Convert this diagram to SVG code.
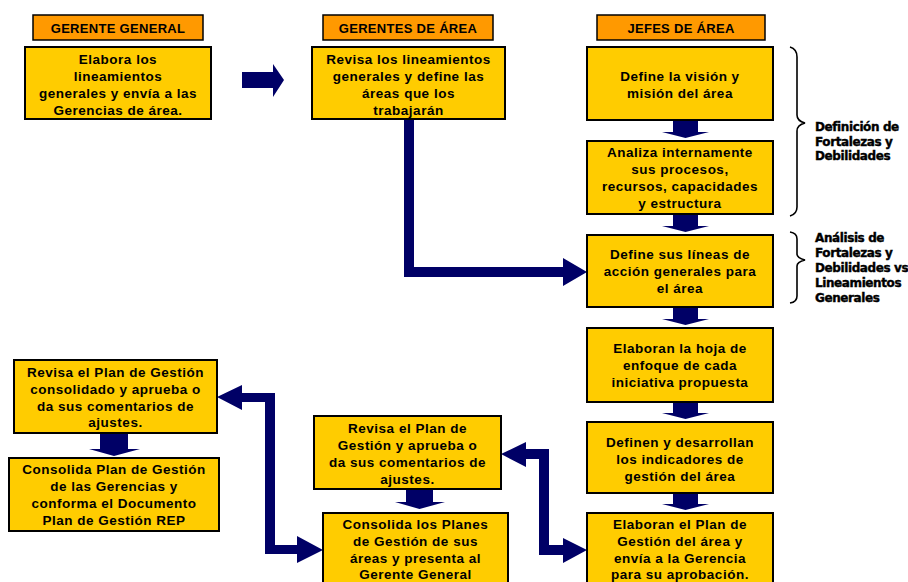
<svg xmlns="http://www.w3.org/2000/svg" width="908" height="582" viewBox="0 0 908 582">
<defs>
<style>
.hdr{fill:#FF9900;stroke:#000;stroke-width:1.5}
.box{fill:#FFCC00;stroke:#000;stroke-width:2}
.ht{font-family:"Liberation Sans",Arial,sans-serif;font-size:13px;font-weight:bold;fill:#000;text-anchor:middle;letter-spacing:0.3px}
.bt{font-family:"Liberation Sans",Arial,sans-serif;font-size:13.5px;font-weight:bold;fill:#000;text-anchor:middle;letter-spacing:0.5px}
.lbl{font-family:"DejaVu Sans",sans-serif;font-size:12px;font-weight:bold;fill:#000;stroke:#000;stroke-width:0.4;letter-spacing:-0.4px}
.arr{fill:#000066}
.brace{fill:none;stroke:#000;stroke-width:1.6}
</style>
</defs>
<rect width="908" height="582" fill="#fff"/>

<g id="connectors">
<polygon class="arr" points="242,72 273,72 273,64 284,80 273,97 273,88 242,88"/>
<polygon class="arr" points="404,119 414,119 414,267 563,267 563,258 587,272 563,286 563,277 404,277"/>
<polygon class="arr" points="217,397 242,385 242,393 275,393 275,545 297,545 297,536 323,550 297,563 297,554 265,554 265,402 242,402 242,410"/>
<polygon class="arr" points="501,454 526,442 526,449 549,449 549,545 563,545 563,538 587,550 563,563 563,555 539,555 539,459 526,459 526,467"/>
<path class="arr" d="M673,120 H698 V132 H709 L685.5,138 L662,132 H673 Z"/>
<path class="arr" d="M673,214 H698 V226 H709 L685.5,232 L662,226 H673 Z"/>
<path class="arr" d="M673,307 H698 V319 H709 L685.5,325 L662,319 H673 Z"/>
<path class="arr" d="M673,402 H698 V413 H709 L685.5,419 L662,413 H673 Z"/>
<path class="arr" d="M673,493 H698 V504 H709 L685.5,510 L662,504 H673 Z"/>
<path class="arr" d="M100,433 H128 V449 H140 L114,456 L89,449 H100 Z"/>
<path class="arr" d="M406,489 H433 V502 H445 L419.5,509 L395,502 H406 Z"/>
</g>

<g id="braces">
<path class="brace" d="M790,47 Q797,49 797,57 V115 Q797,121 805,123 Q797,125 797,131 V207 Q797,214 790,216"/>
<path class="brace" d="M790,232 Q797,233 797,239 V254 Q797,258 805,260 Q797,262 797,266 V296 Q797,302 790,303"/>
</g>

<g id="h1"><rect class="hdr" x="33" y="15" width="170" height="25"/><text class="ht" x="118" y="33">GERENTE GENERAL</text></g>
<g id="h2"><rect class="hdr" x="323" y="15" width="170" height="25"/><text class="ht" x="408" y="33">GERENTES DE ÁREA</text></g>
<g id="h3"><rect class="hdr" x="597" y="15" width="168" height="25"/><text class="ht" x="681" y="33">JEFES DE ÁREA</text></g>

<g id="b1"><rect class="box" x="25" y="47" width="186" height="72"/>
<text class="bt"><tspan x="118" y="64">Elabora los</tspan><tspan x="118" y="81">lineamientos</tspan><tspan x="118" y="98">generales y envía a las</tspan><tspan x="118" y="115">Gerencias de área.</tspan></text></g>

<g id="b2"><rect class="box" x="312" y="47" width="193" height="72"/>
<text class="bt"><tspan x="408.5" y="64">Revisa los lineamientos</tspan><tspan x="408.5" y="81">generales y define las</tspan><tspan x="408.5" y="98">áreas que los</tspan><tspan x="408.5" y="115">trabajarán</tspan></text></g>

<g id="j1"><rect class="box" x="587" y="47" width="186" height="73"/>
<text class="bt"><tspan x="680" y="81">Define la visión y</tspan><tspan x="680" y="98">misión del área</tspan></text></g>

<g id="j2"><rect class="box" x="587" y="141" width="186" height="73"/>
<text class="bt"><tspan x="680" y="157">Analiza internamente</tspan><tspan x="680" y="174">sus procesos,</tspan><tspan x="680" y="191">recursos, capacidades</tspan><tspan x="680" y="208">y estructura</tspan></text></g>

<g id="j3"><rect class="box" x="587" y="235" width="186" height="72"/>
<text class="bt"><tspan x="680" y="259">Define sus líneas de</tspan><tspan x="680" y="276">acción generales para</tspan><tspan x="680" y="293">el área</tspan></text></g>

<g id="j4"><rect class="box" x="587" y="328" width="186" height="74"/>
<text class="bt"><tspan x="680" y="353">Elaboran la hoja de</tspan><tspan x="680" y="370">enfoque de cada</tspan><tspan x="680" y="387">iniciativa propuesta</tspan></text></g>

<g id="j5"><rect class="box" x="587" y="422" width="186" height="71"/>
<text class="bt"><tspan x="680" y="447">Definen y desarrollan</tspan><tspan x="680" y="464">los indicadores de</tspan><tspan x="680" y="481">gestión del área</tspan></text></g>

<g id="j6"><rect class="box" x="587" y="513" width="186" height="80"/>
<text class="bt"><tspan x="680" y="529">Elaboran el Plan de</tspan><tspan x="680" y="546">Gestión del área y</tspan><tspan x="680" y="563">envía a la Gerencia</tspan><tspan x="680" y="579">para su aprobación.</tspan></text></g>

<g id="m1"><rect class="box" x="314" y="416" width="187" height="73"/>
<text class="bt"><tspan x="407.5" y="433">Revisa el Plan de</tspan><tspan x="407.5" y="450">Gestión y aprueba o</tspan><tspan x="407.5" y="467">da sus comentarios de</tspan><tspan x="407.5" y="484">ajustes.</tspan></text></g>

<g id="m2"><rect class="box" x="323" y="513" width="185" height="80"/>
<text class="bt"><tspan x="415.5" y="529">Consolida los Planes</tspan><tspan x="415.5" y="546">de Gestión de sus</tspan><tspan x="415.5" y="563">áreas y presenta al</tspan><tspan x="415.5" y="579">Gerente General</tspan></text></g>

<g id="g1"><rect class="box" x="14" y="360" width="203" height="73"/>
<text class="bt"><tspan x="115.5" y="377">Revisa el Plan de Gestión</tspan><tspan x="115.5" y="394">consolidado y aprueba o</tspan><tspan x="115.5" y="411">da sus comentarios de</tspan><tspan x="115.5" y="427">ajustes.</tspan></text></g>

<g id="g2"><rect class="box" x="9" y="458" width="210" height="73"/>
<text class="bt"><tspan x="114" y="474">Consolida Plan de Gestión</tspan><tspan x="114" y="491">de las Gerencias y</tspan><tspan x="114" y="508">conforma el Documento</tspan><tspan x="114" y="525">Plan de Gestión REP</tspan></text></g>

<g id="lbl1"><text class="lbl"><tspan x="815" y="131">Definición de</tspan><tspan x="815" y="145.5">Fortalezas y</tspan><tspan x="815" y="160">Debilidades</tspan></text></g>
<g id="lbl2"><text class="lbl"><tspan x="815" y="242">Análisis de</tspan><tspan x="815" y="257">Fortalezas y</tspan><tspan x="815" y="272">Debilidades vs</tspan><tspan x="815" y="287">Lineamientos</tspan><tspan x="815" y="302">Generales</tspan></text></g>
</svg>
